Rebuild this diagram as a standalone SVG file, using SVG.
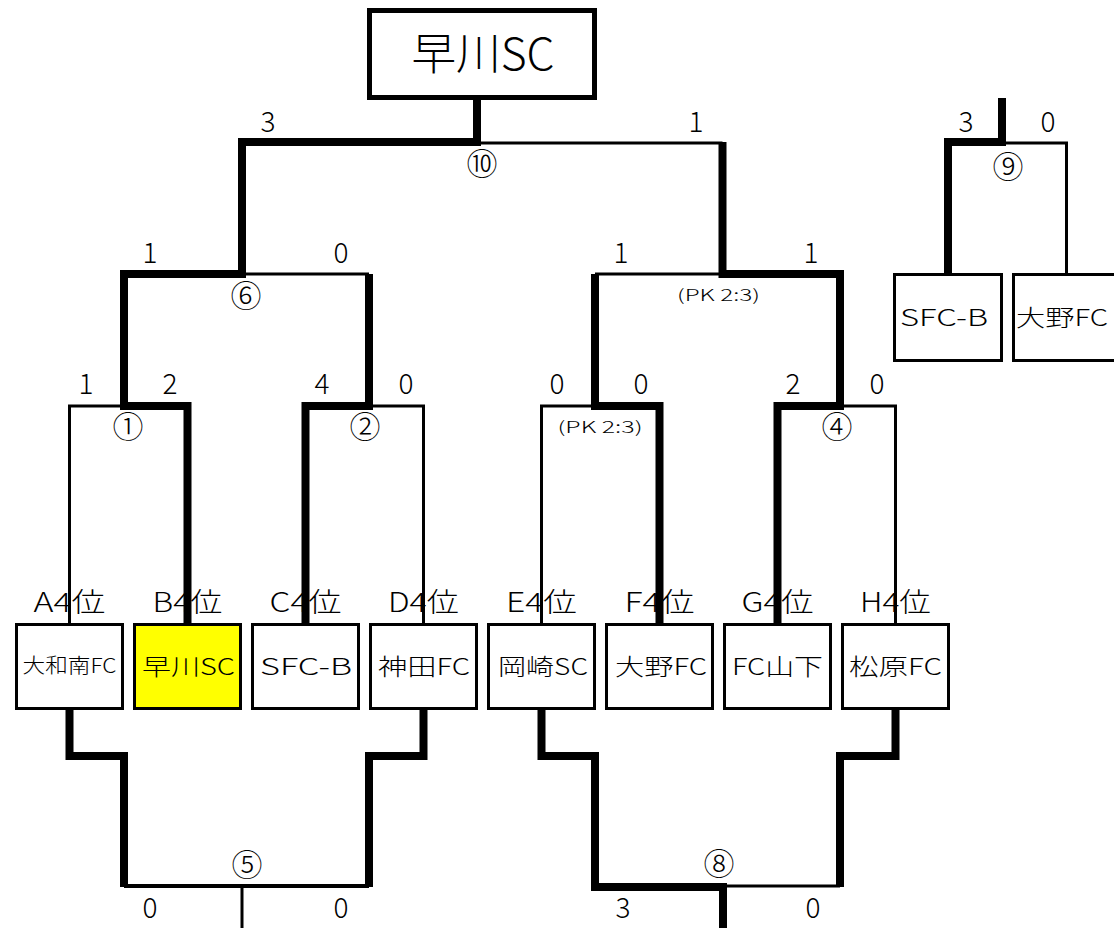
<svg xmlns="http://www.w3.org/2000/svg" width="1114" height="928" viewBox="0 0 1114 928">
<style>
.t{font-family:"Noto Sans CJK JP","Noto Sans",sans-serif;font-weight:300;fill:#000;text-anchor:middle}
.name{font-size:23px}
.lbl{font-size:27px}
.sc{font-size:28px}
.no{font-size:31px}
.pk{font-size:16px}
.box{fill:#fff;stroke:#000;stroke-width:3}
.win{fill:#ffff00;stroke:#000;stroke-width:3}
.thick{fill:none;stroke:#000;stroke-width:8;stroke-linejoin:miter;stroke-linecap:butt}
.thin{fill:none;stroke:#000;stroke-width:3;stroke-linecap:butt}
.mid{fill:none;stroke:#000;stroke-width:4}
</style>
<rect width="1114" height="928" fill="#fff"/>

<g id="connectors">
  <path class="thin" d="M477,143 H722.5"/>
  <path class="thin" d="M242,274 H369"/>
  <path class="thin" d="M124,406 H69.5 V623"/>
  <path class="thin" d="M369,406 H423.5 V623"/>
  <path class="thin" d="M595,274 H722.5"/>
  <path class="thin" d="M595,406 H541.5 V623"/>
  <path class="thin" d="M840,406 H895.5 V623"/>
  <path class="thin" d="M1002,143 H1066.5 V273"/>
  <path class="mid" d="M124,886 H369"/>
  <path class="thin" d="M242,886 V928"/>
  <path class="thin" d="M723,886 H840"/>
  <path class="thick" d="M477,100 V142 H242 V274 H124 V406 H187.5 V623"/>
  <path class="thick" d="M305.5,623 V406 H369 V274"/>
  <path class="thick" d="M659.5,623 V406 H595 V274"/>
  <path class="thick" d="M777.5,623 V406 H840 V274 H722.5 V142"/>
  <path class="thick" d="M1002,98 V142 H948 V273"/>
  <path class="thick" d="M69.5,710 V756 H124 V887"/>
  <path class="thick" d="M423.5,710 V756 H369 V887"/>
  <path class="thick" d="M541.5,710 V756 H595 V887 H723 V928"/>
  <path class="thick" d="M895.5,710 V756 H840 V887"/>
</g>

<g id="champion">
  <rect x="369.5" y="10.5" width="225" height="87" fill="#fff" stroke="#000" stroke-width="5"/>
  <text class="t" x="483" y="70" font-size="44" textLength="143" lengthAdjust="spacingAndGlyphs">早川SC</text>
</g>

<g id="team-a">
  <text class="t lbl" x="69.5" y="612" textLength="72" lengthAdjust="spacingAndGlyphs">A4位</text>
  <rect class="box" x="16.5" y="624.5" width="106" height="84"/>
  <text class="t" x="69.5" y="673" font-size="20" textLength="94" lengthAdjust="spacingAndGlyphs">大和南FC</text>
</g>
<g id="team-b">
  <text class="t lbl" x="187.5" y="612" textLength="70" lengthAdjust="spacingAndGlyphs">B4位</text>
  <rect class="win" x="134.5" y="624.5" width="106" height="84"/>
  <text class="t name" x="188.5" y="675" textLength="93" lengthAdjust="spacingAndGlyphs">早川SC</text>
</g>
<g id="team-c">
  <text class="t lbl" x="305.5" y="612" textLength="72" lengthAdjust="spacingAndGlyphs">C4位</text>
  <rect class="box" x="252.5" y="624.5" width="106" height="84"/>
  <text class="t name" x="306" y="675" textLength="92" lengthAdjust="spacingAndGlyphs">SFC-B</text>
</g>
<g id="team-d">
  <text class="t lbl" x="423.5" y="612" textLength="71" lengthAdjust="spacingAndGlyphs">D4位</text>
  <rect class="box" x="370.5" y="624.5" width="106" height="84"/>
  <text class="t name" x="424" y="675" textLength="92" lengthAdjust="spacingAndGlyphs">神田FC</text>
</g>
<g id="team-e">
  <text class="t lbl" x="541.5" y="612" textLength="71" lengthAdjust="spacingAndGlyphs">E4位</text>
  <rect class="box" x="488.5" y="624.5" width="106" height="84"/>
  <text class="t name" x="543" y="675" textLength="90" lengthAdjust="spacingAndGlyphs">岡崎SC</text>
</g>
<g id="team-f">
  <text class="t lbl" x="659.5" y="612" textLength="70" lengthAdjust="spacingAndGlyphs">F4位</text>
  <rect class="box" x="606.5" y="624.5" width="106" height="84"/>
  <text class="t name" x="661" y="675" textLength="92" lengthAdjust="spacingAndGlyphs">大野FC</text>
</g>
<g id="team-g">
  <text class="t lbl" x="777.5" y="612" textLength="72" lengthAdjust="spacingAndGlyphs">G4位</text>
  <rect class="box" x="724.5" y="624.5" width="106" height="84"/>
  <text class="t name" x="777.5" y="675" textLength="91" lengthAdjust="spacingAndGlyphs">FC山下</text>
</g>
<g id="team-h">
  <text class="t lbl" x="895.5" y="612" textLength="71" lengthAdjust="spacingAndGlyphs">H4位</text>
  <rect class="box" x="842.5" y="624.5" width="106" height="84"/>
  <text class="t name" x="895.5" y="675" textLength="93" lengthAdjust="spacingAndGlyphs">松原FC</text>
</g>

<g id="match9-sfcb">
  <rect class="box" x="894.5" y="274.5" width="107" height="86"/>
  <text class="t name" x="944" y="326" textLength="88" lengthAdjust="spacingAndGlyphs">SFC-B</text>
</g>
<g id="match9-ono">
  <rect class="box" x="1013.5" y="274.5" width="106" height="86"/>
  <text class="t name" x="1062" y="326" textLength="92" lengthAdjust="spacingAndGlyphs">大野FC</text>
</g>

<g id="match-labels">
  <text class="t no" x="482" y="175">⑩</text>
  <text class="t no" x="246" y="307">⑥</text>
  <text class="t no" x="128" y="438">①</text>
  <text class="t no" x="365" y="438">②</text>
  <text class="t no" x="837" y="438">④</text>
  <text class="t no" x="247" y="876">⑤</text>
  <text class="t no" x="719" y="875">⑧</text>
  <text class="t no" x="1008" y="178">⑨</text>
  <text class="t pk" x="718.5" y="301" textLength="83" lengthAdjust="spacingAndGlyphs">(PK 2:3)</text>
  <text class="t pk" x="600" y="433" textLength="85" lengthAdjust="spacingAndGlyphs">(PK 2:3)</text>
</g>

<g id="scores">
  <text class="t sc" x="268" y="132">3</text>
  <text class="t sc" x="696" y="132">1</text>
  <text class="t sc" x="966" y="132">3</text>
  <text class="t sc" x="1048" y="132">0</text>
  <text class="t sc" x="150" y="263">1</text>
  <text class="t sc" x="341" y="263">0</text>
  <text class="t sc" x="621" y="263">1</text>
  <text class="t sc" x="811" y="263">1</text>
  <text class="t sc" x="86" y="394">1</text>
  <text class="t sc" x="170" y="394">2</text>
  <text class="t sc" x="322" y="394">4</text>
  <text class="t sc" x="406" y="394">0</text>
  <text class="t sc" x="557" y="394">0</text>
  <text class="t sc" x="641" y="394">0</text>
  <text class="t sc" x="793" y="394">2</text>
  <text class="t sc" x="877" y="394">0</text>
  <text class="t sc" x="150" y="918">0</text>
  <text class="t sc" x="341" y="918">0</text>
  <text class="t sc" x="623" y="918">3</text>
  <text class="t sc" x="813" y="918">0</text>
</g>
</svg>
